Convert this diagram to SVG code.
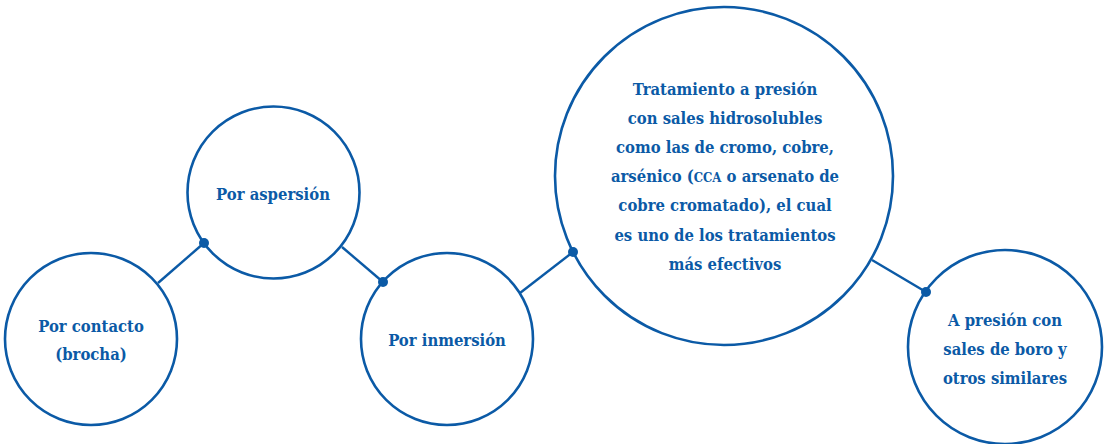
<svg xmlns="http://www.w3.org/2000/svg" width="1104" height="444" viewBox="0 0 1104 444">
<style>
.node{fill:#ffffff;stroke:#0b5aa6;stroke-width:2.6}
.conn line{stroke:#0b5aa6;stroke-width:2.4}
.conn circle{fill:#0b5aa6}
.t{font-family:'DejaVu Serif Condensed','DejaVu Serif',serif;font-stretch:condensed;font-weight:700;font-size:16.5px;fill:#0b5aa6;text-anchor:middle}
.sc{font-size:13px}
</style>
<rect width="1104" height="444" fill="#ffffff"/>
<g id="connectors" class="conn">
<line x1="158" y1="283" x2="204" y2="243"/>
<line x1="342" y1="247" x2="383" y2="282"/>
<line x1="520" y1="293" x2="573" y2="252"/>
<line x1="872" y1="260" x2="926" y2="292"/>
</g>
<g id="n1">
<circle class="node" cx="91" cy="339" r="86"/>
<text class="t" x="91" y="332">Por contacto</text>
<text class="t" x="91" y="360">(brocha)</text>
</g>
<g id="n2">
<circle class="node" cx="273.5" cy="192.5" r="86"/>
<text class="t" x="273" y="200">Por aspersión</text>
</g>
<g id="n3">
<circle class="node" cx="447" cy="339" r="86"/>
<text class="t" x="447" y="346">Por inmersión</text>
</g>
<g id="n4">
<circle class="node" cx="724" cy="176" r="169"/>
<text class="t" x="725" y="95">Tratamiento a presión</text>
<text class="t" x="725" y="124">con sales hidrosolubles</text>
<text class="t" x="725" y="153">como las de cromo, cobre,</text>
<text class="t" x="725" y="182">arsénico (<tspan class="sc">CCA</tspan> o arsenato de</text>
<text class="t" x="725" y="211">cobre cromatado), el cual</text>
<text class="t" x="725" y="241">es uno de los tratamientos</text>
<text class="t" x="725" y="270">más efectivos</text>
</g>
<g id="n5">
<circle class="node" cx="1005" cy="347" r="97"/>
<text class="t" x="1005" y="326">A presión con</text>
<text class="t" x="1005" y="355">sales de boro y</text>
<text class="t" x="1005" y="384">otros similares</text>
</g>
<g id="dots" class="conn">
<circle cx="204" cy="243" r="5"/>
<circle cx="383" cy="282" r="5"/>
<circle cx="573" cy="252" r="5"/>
<circle cx="926" cy="292" r="5"/>
</g>
</svg>
